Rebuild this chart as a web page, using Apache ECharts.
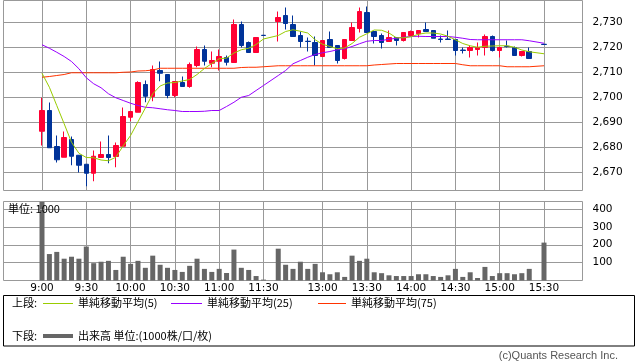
<!DOCTYPE html>
<html><head><meta charset="utf-8">
<script src="https://cdn.jsdelivr.net/npm/echarts@6/dist/echarts.min.js"></script>
<style>html,body{margin:0;padding:0;background:#fff}#c{width:638px;height:362px}</style>
</head><body><div id="c"></div>
<script>
// ---- data ----
const categories = ['9:00','9:05','9:10','9:15','9:20','9:25','9:30','9:35','9:40','9:45','9:50','9:55',
 '10:00','10:05','10:10','10:15','10:20','10:25','10:30','10:35','10:40','10:45','10:50','10:55',
 '11:00','11:05','11:10','11:15','11:20','11:25','11:30','',
 '12:30','12:35','12:40','12:45','12:50','12:55','13:00','13:05','13:10','13:15','13:20','13:25',
 '13:30','13:35','13:40','13:45','13:50','13:55','14:00','14:05','14:10','14:15','14:20','14:25',
 '14:30','14:35','14:40','14:45','14:50','14:55','15:00','15:05','15:10','15:15','15:20','15:25','15:30'];
const tickLabels = ['9:00','9:30','10:00','10:30','11:00','11:30','13:00','13:30','14:00','14:30','15:00','15:30'];
const priceTicks = [2670,2680,2690,2700,2710,2720,2730];
const volumeTicks = [100,200,300,400];

const openP = [2686.5,2694.8,2680.4,2676.1,2683.2,2676.9,2673.3,2669.7,2676.0,2677.2,2676.4,2680.5,
 2692.1,2694.1,2705.2,2700.4,2710.8,2709.2,2700.8,2706.0,2704.4,2712.8,2719.2,2713.7,
 2714.5,2716.0,2714.0,2729.2,2722.0,2718.0,2724.9,null,
 2730.4,2732.8,2729.2,2724.8,2722.5,2722.0,2716.4,2723.2,2720.8,2715.6,2722.8,2727.6,
 2734.0,2726.4,2724.8,2722.4,2724.0,2722.8,2724.8,2725.5,2727.2,2726.8,2723.4,2723.4,
 2723.2,2719.0,2718.8,2719.2,2720.0,2724.4,2718.8,2720.5,2720.0,2716.8,2718.4,null,2721.3];
const closeP = [2694.8,2679.9,2675.1,2684.0,2676.5,2672.9,2669.7,2676.5,2677.2,2676.0,2680.8,2692.4,
 2694.4,2706.0,2700.5,2711.2,2709.7,2700.8,2706.4,2704.4,2713.2,2719.2,2714.5,2714.8,
 2716.4,2714.1,2729.2,2720.8,2718.0,2724.0,2724.8,null,
 2732.0,2729.6,2724.4,2722.4,2722.4,2716.8,2722.8,2720.0,2714.8,2723.2,2728.0,2734.4,
 2726.0,2724.4,2722.0,2724.0,2722.8,2726.0,2726.4,2726.8,2726.4,2723.7,2723.2,2723.2,
 2718.8,2718.8,2720.0,2720.0,2724.4,2718.8,2720.0,2720.4,2716.8,2718.4,2715.6,null,2721.2];
const lowP = [2680.8,2679.9,2674.0,2676.1,2672.9,2670.0,2664.5,2666.5,2676.0,2673.7,2672.1,2680.5,
 2690.5,2694.1,2698.1,2698.5,2706.5,2699.7,2700.1,2704.4,2703.9,2712.1,2712.8,2712.1,
 2710.8,2712.8,2714.0,2720.0,2718.0,2718.0,2724.8,null,
 2722.4,2727.2,2724.4,2720.0,2718.4,2712.8,2716.4,2720.0,2713.6,2715.2,2722.8,2726.0,
 2726.0,2721.6,2719.6,2722.4,2720.8,2722.4,2724.8,2724.0,2726.4,2723.7,2722.0,2723.2,
 2716.8,2717.6,2716.0,2716.8,2716.8,2718.4,2716.0,2720.0,2716.8,2716.4,2715.6,null,2721.2];
const highP = [2699.9,2698.0,2684.8,2686.4,2684.4,2677.0,2673.3,2678.8,2682.4,2684.8,2682.0,2696.0,
 2694.4,2706.5,2706.8,2712.8,2714.4,2709.2,2706.4,2708.4,2714.0,2720.4,2720.8,2718.4,
 2719.2,2716.8,2731.2,2730.4,2722.4,2724.0,2724.9,null,
 2734.4,2736.0,2732.8,2726.4,2724.0,2724.4,2722.8,2726.4,2720.8,2723.2,2730.0,2736.0,
 2736.4,2726.4,2725.6,2726.8,2724.0,2726.0,2726.8,2726.8,2730.0,2726.8,2724.8,2726.8,
 2723.2,2720.0,2720.8,2722.0,2725.2,2724.8,2720.0,2722.8,2720.4,2718.4,2720.0,null,2721.3];

const ma5 = [2709.7,2704.1,2696.8,2689.5,2682.1,2677.7,2676.0,2675.9,2675.0,2674.7,2676.1,2680.7,
 2684.8,2690.3,2695.8,2701.5,2704.6,2705.8,2706.0,2706.6,2707.2,2709.2,2711.6,2713.6,
 2715.5,2715.8,2717.8,2719.1,2719.7,2721.2,2723.4,null,
 2724.8,2726.4,2727.1,2726.5,2725.8,2723.1,2721.3,2720.4,2719.5,2719.8,2721.6,2724.1,
 2725.5,2727.0,2726.9,2725.8,2723.9,2723.9,2724.3,2725.3,2725.8,2725.8,2725.4,2724.5,
 2723.1,2721.6,2720.7,2720.1,2720.5,2720.6,2720.7,2720.7,2720.1,2719.0,2718.3,null,2717.5];
const ma25 = [2721.1,2719.7,2718.1,2716.4,2714.4,2711.5,2707.9,2705.5,2703.9,2701.5,2699.9,2698.8,
 2697.7,2696.8,2696.1,2695.9,2695.5,2695.1,2694.8,2694.4,2694.4,2694.4,2694.5,2694.8,
 2694.8,2696.4,2698.1,2700.1,2700.8,2702.8,2704.8,null,
 2708.8,2710.8,2713.5,2714.8,2716.1,2717.2,2717.9,2718.4,2719.1,2719.5,2720.4,2721.5,
 2722.5,2722.8,2722.8,2723.3,2723.7,2724.1,2724.4,2724.5,2724.4,2724.4,2724.4,2724.4,
 2724.1,2723.7,2723.2,2723.1,2723.1,2723.1,2723.1,2723.1,2723.1,2723.1,2722.7,null,2721.7];
const ma75 = [2708.1,2708.4,2708.8,2709.2,2709.9,2709.9,2709.9,2709.9,2709.9,2709.9,2709.9,2710.1,
 2710.2,2710.6,2710.7,2711.0,2711.7,2711.7,2711.7,2711.7,2711.7,2711.7,2711.7,2711.7,
 2711.7,2711.7,2711.7,2712.0,2712.1,2712.1,2712.3,null,
 2712.7,2712.7,2712.7,2712.7,2712.7,2712.7,2712.7,2712.7,2712.7,2712.7,2712.7,2712.7,
 2712.7,2713.0,2713.2,2713.4,2713.6,2713.6,2713.6,2713.6,2713.6,2713.6,2713.6,2713.6,
 2713.6,2713.1,2712.7,2712.7,2712.7,2712.7,2712.7,2712.3,2712.3,2712.3,2712.3,null,2712.7];
const volume = [440,148,160,122,133,122,190,97,105,110,59,133,
 93,110,71,139,88,71,59,48,82,122,65,48,
 65,42,173,71,59,25,5,null,
 178,88,65,105,65,93,46,35,46,20,139,110,
 122,46,41,29,25,25,25,35,35,25,20,29,
 65,20,46,14,76,25,41,41,35,41,65,null,212];

const priceMin = 2662.8, priceMax = 2738.8;
const volMax = 442;

// ---- chart ----
const candles = openP.map((o, i) => o == null ? '-' : [o, closeP[i], lowP[i], highP[i]]);
const isTick = (i, v) => tickLabels.indexOf(v) >= 0;
const GRID = '#999999';
const NUM_FONT = 'DejaVu Sans';
const JP_FONT = '"Noto Sans CJK JP", sans-serif';

const chart = echarts.init(document.getElementById('c'), null, {renderer: 'canvas'});
chart.setOption({
  animation: false,
  backgroundColor: '#fff',
  grid: [
    {left: 3.5, top: 0.5, width: 579, height: 190, show: true, borderColor: GRID, borderWidth: 1},
    {left: 42, top: 0.5, width: 502, height: 190},
    {left: 3.5, top: 201.5, width: 579, height: 79, show: true, borderColor: GRID, borderWidth: 1},
    {left: 42, top: 201.5, width: 502, height: 79}
  ],
  xAxis: [
    {gridIndex: 0, type: 'value', show: false, min: 0, max: 1},
    {gridIndex: 1, type: 'category', data: categories, boundaryGap: false,
      axisLine: {show: false}, axisTick: {show: false}, axisLabel: {show: false},
      splitLine: {show: true, interval: isTick, lineStyle: {color: GRID, width: 1}}},
    {gridIndex: 2, type: 'value', show: false, min: 0, max: 1},
    {gridIndex: 3, type: 'category', data: categories, boundaryGap: false,
      axisLine: {show: false}, axisTick: {show: false},
      axisLabel: {show: true, interval: isTick, fontSize: 10.5, color: '#000', margin: 2, fontFamily: NUM_FONT},
      splitLine: {show: true, interval: isTick, lineStyle: {color: GRID, width: 1}}}
  ],
  yAxis: [
    {gridIndex: 0, type: 'value', position: 'right', min: priceMin, max: priceMax,
      splitNumber: 8, minInterval: 10, maxInterval: 10,
      axisLine: {show: false},
      axisTick: {show: true, length: 6, customValues: priceTicks, lineStyle: {color: GRID}},
      axisLabel: {margin: 10, fontSize: 10.5, color: '#000', fontFamily: NUM_FONT, customValues: priceTicks,
        formatter: v => Number(v).toLocaleString('en-US')},
      splitLine: {show: true, lineStyle: {color: GRID, width: 1}}},
    {gridIndex: 1, type: 'value', min: priceMin, max: priceMax, show: false},
    {gridIndex: 2, type: 'value', position: 'right', min: 0, max: volMax, interval: 100,
      axisLine: {show: false},
      axisTick: {show: true, length: 6, customValues: volumeTicks, lineStyle: {color: GRID}},
      axisLabel: {margin: 10, fontSize: 10.5, color: '#000', fontFamily: NUM_FONT, customValues: volumeTicks},
      splitLine: {show: true, lineStyle: {color: [GRID, GRID, GRID, GRID, 'rgba(0,0,0,0)', GRID], width: 1}}},
    {gridIndex: 3, type: 'value', min: 0, max: volMax, show: false}
  ],
  series: [
    {type: 'candlestick', xAxisIndex: 1, yAxisIndex: 1, data: candles, barWidth: 5, clip: false,
      itemStyle: {color: '#ff0033', color0: '#003399', borderColor: '#ff0033', borderColor0: '#003399', borderWidth: 1}},
    {type: 'line', xAxisIndex: 1, yAxisIndex: 1, data: ma75, showSymbol: false, connectNulls: true,
      lineStyle: {color: '#ff3300', width: 1}, z: 3},
    {type: 'line', xAxisIndex: 1, yAxisIndex: 1, data: ma25, showSymbol: false, connectNulls: true,
      lineStyle: {color: '#9900ff', width: 1}, z: 3},
    {type: 'line', xAxisIndex: 1, yAxisIndex: 1, data: ma5, showSymbol: false, connectNulls: true,
      lineStyle: {color: '#99cc00', width: 1}, z: 3},
    {type: 'bar', xAxisIndex: 3, yAxisIndex: 3, data: volume, barWidth: 5, clip: false,
      itemStyle: {color: '#666666'}}
  ],
  graphic: [
    {type: 'line', shape: {x1: 3, y1: 209.5, x2: 62, y2: 209.5}, style: {stroke: GRID, lineWidth: 1}, z: 90},
    {type: 'text', x: 8, y: 209, z: 100, style: {text: '単位: 1000', font: '11px ' + JP_FONT, fill: '#000', verticalAlign: 'middle', textVerticalAlign: 'middle'}},
    {type: 'rect', shape: {x: 3.5, y: 295.5, width: 631, height: 50.5}, style: {fill: '#fff', stroke: '#000', lineWidth: 1}, z: 50},
    {type: 'text', x: 12, y: 303, z: 100, style: {text: '上段:', font: '11px ' + JP_FONT, fill: '#000', verticalAlign: 'middle', textVerticalAlign: 'middle'}},
    {type: 'line', shape: {x1: 43, y1: 303.5, x2: 73, y2: 303.5}, style: {stroke: '#99cc00', lineWidth: 1}, z: 100},
    {type: 'text', x: 78, y: 303, z: 100, style: {text: '単純移動平均(5)', font: '11px ' + JP_FONT, fill: '#000', verticalAlign: 'middle', textVerticalAlign: 'middle'}},
    {type: 'line', shape: {x1: 171, y1: 303.5, x2: 202, y2: 303.5}, style: {stroke: '#9900ff', lineWidth: 1}, z: 100},
    {type: 'text', x: 207, y: 303, z: 100, style: {text: '単純移動平均(25)', font: '11px ' + JP_FONT, fill: '#000', verticalAlign: 'middle', textVerticalAlign: 'middle'}},
    {type: 'line', shape: {x1: 318, y1: 303.5, x2: 346, y2: 303.5}, style: {stroke: '#ff3300', lineWidth: 1}, z: 100},
    {type: 'text', x: 351, y: 303, z: 100, style: {text: '単純移動平均(75)', font: '11px ' + JP_FONT, fill: '#000', verticalAlign: 'middle', textVerticalAlign: 'middle'}},
    {type: 'text', x: 12, y: 336, z: 100, style: {text: '下段:', font: '11px ' + JP_FONT, fill: '#000', verticalAlign: 'middle', textVerticalAlign: 'middle'}},
    {type: 'line', shape: {x1: 43, y1: 336, x2: 73, y2: 336}, style: {stroke: '#666666', lineWidth: 4}, z: 100},
    {type: 'text', x: 78, y: 336, z: 100, style: {text: '出来高 単位:(1000株/口/枚)', font: '11px ' + JP_FONT, fill: '#000', verticalAlign: 'middle', textVerticalAlign: 'middle'}},
    {type: 'text', x: 618, y: 356, z: 100, style: {text: '(c)Quants Research Inc.', font: '11px "Liberation Sans", Arial, sans-serif', fill: '#555', align: 'right', textAlign: 'right', verticalAlign: 'middle', textVerticalAlign: 'middle'}}
  ]
});
</script>
</body></html>
